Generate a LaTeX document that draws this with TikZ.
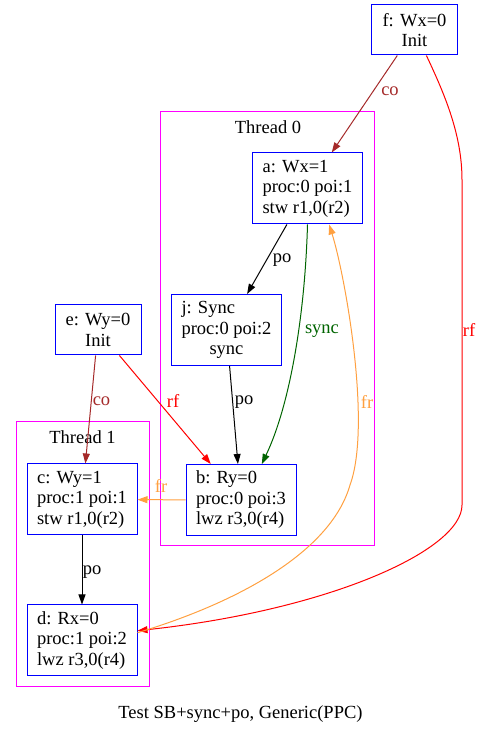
\documentclass[tikz,border=0pt]{standalone}
\usepackage{fontspec}
\setmainfont{Liberation Serif}
\usetikzlibrary{arrows.meta}
\definecolor{cobrown}{HTML}{A52A2A}
\definecolor{frorange}{HTML}{FFA040}
\definecolor{syncgreen}{HTML}{006400}
\definecolor{clmagenta}{HTML}{FF00FF}

\begin{document}
\begin{tikzpicture}[x=1pt, y=1pt, font=\fontsize{18.5}{20.5}\selectfont,
  evt/.style={draw=blue, line width=1pt, minimum width=110pt, minimum height=71pt, align=left, inner sep=0pt},
  init/.style={draw=blue, line width=1pt, minimum width=86pt, minimum height=50pt, align=center, inner sep=0pt},
  cluster/.style={draw=clmagenta, line width=1pt},
  edge/.style={line width=1pt, -{Triangle[length=10pt, width=7pt]}},
  lbl/.style={inner sep=0pt}]
\useasboundingbox (0,0) rectangle (481,735);

% Threads
\draw[cluster] (160,189) rectangle (374,623);
\node[lbl] (th0) at (268,608) {Thread 0};
\draw[cluster] (16,48) rectangle (149,313);
\node[lbl] (th1) at (82.5,298) {Thread 1};

% Events
\node[init] (f) at (414.5,705) {f: Wx=0\\Init};
\node[init] (e) at (98,405) {e: Wy=0\\Init};
\node[evt] (a) at (307.5,546.5) {a: Wx=1\\proc:0 poi:1\\stw r1,0(r2)};
\node[evt] (j) at (226.5,405) {j: Sync\\proc:0 poi:2\\\hfill sync\hfill\mbox{}};
\node[evt] (b) at (241,235) {b: Ry=0\\proc:0 poi:3\\lwz r3,0(r4)};
\node[evt] (c) at (82,235.5) {c: Wy=1\\proc:1 poi:1\\stw r1,0(r2)};
\node[evt] (d) at (82,94.5) {d: Rx=0\\proc:1 poi:2\\lwz r3,0(r4)};

% po
\draw[edge] (a) -- (j);
\draw[edge] (j) -- (b);
\draw[edge] (c) -- (d);
\node[lbl] (lpo1) at (282,475) {po};
\node[lbl] (lpo2) at (244,333) {po};
\node[lbl] (lpo3) at (92,163) {po};

% sync
\draw[edge, syncgreen] (a.south) .. controls (305,420) and (290,330) .. (b.60);
\node[lbl, text=syncgreen] (lsync) at (322,404) {sync};

% co
\draw[edge, cobrown] (f) -- (a);
\draw[edge, cobrown] (e) -- (c);
\node[lbl, text=cobrown] (lco1) at (390,644) {co};
\node[lbl, text=cobrown] (lco2) at (101.5,334) {co};

% rf
\draw[edge, red] (e) -- (b);
\draw[edge, red] (f.-65) .. controls (445,640) and (462,600) .. (462,555)
  -- (462,230) .. controls (462,185) and (330,125) .. (d.10);
\node[lbl, text=red] (lrf1) at (173,334) {rf};
\node[lbl, text=red] (lrf2) at (469,405) {rf};

% fr
\draw[edge, frorange] (b) -- (c);
\draw[edge, frorange] (d.8) .. controls (230,130) and (330,180) .. (350,250)
  .. controls (372,310) and (345,460) .. (a.-59);
\node[lbl, text=frorange] (lfr1) at (161,249) {fr};
\node[lbl, text=frorange] (lfr2) at (367,333) {fr};

% Caption
\node[lbl] (title) at (240.5,21) {Test SB+sync+po, Generic(PPC)};

\end{tikzpicture}
\end{document}
